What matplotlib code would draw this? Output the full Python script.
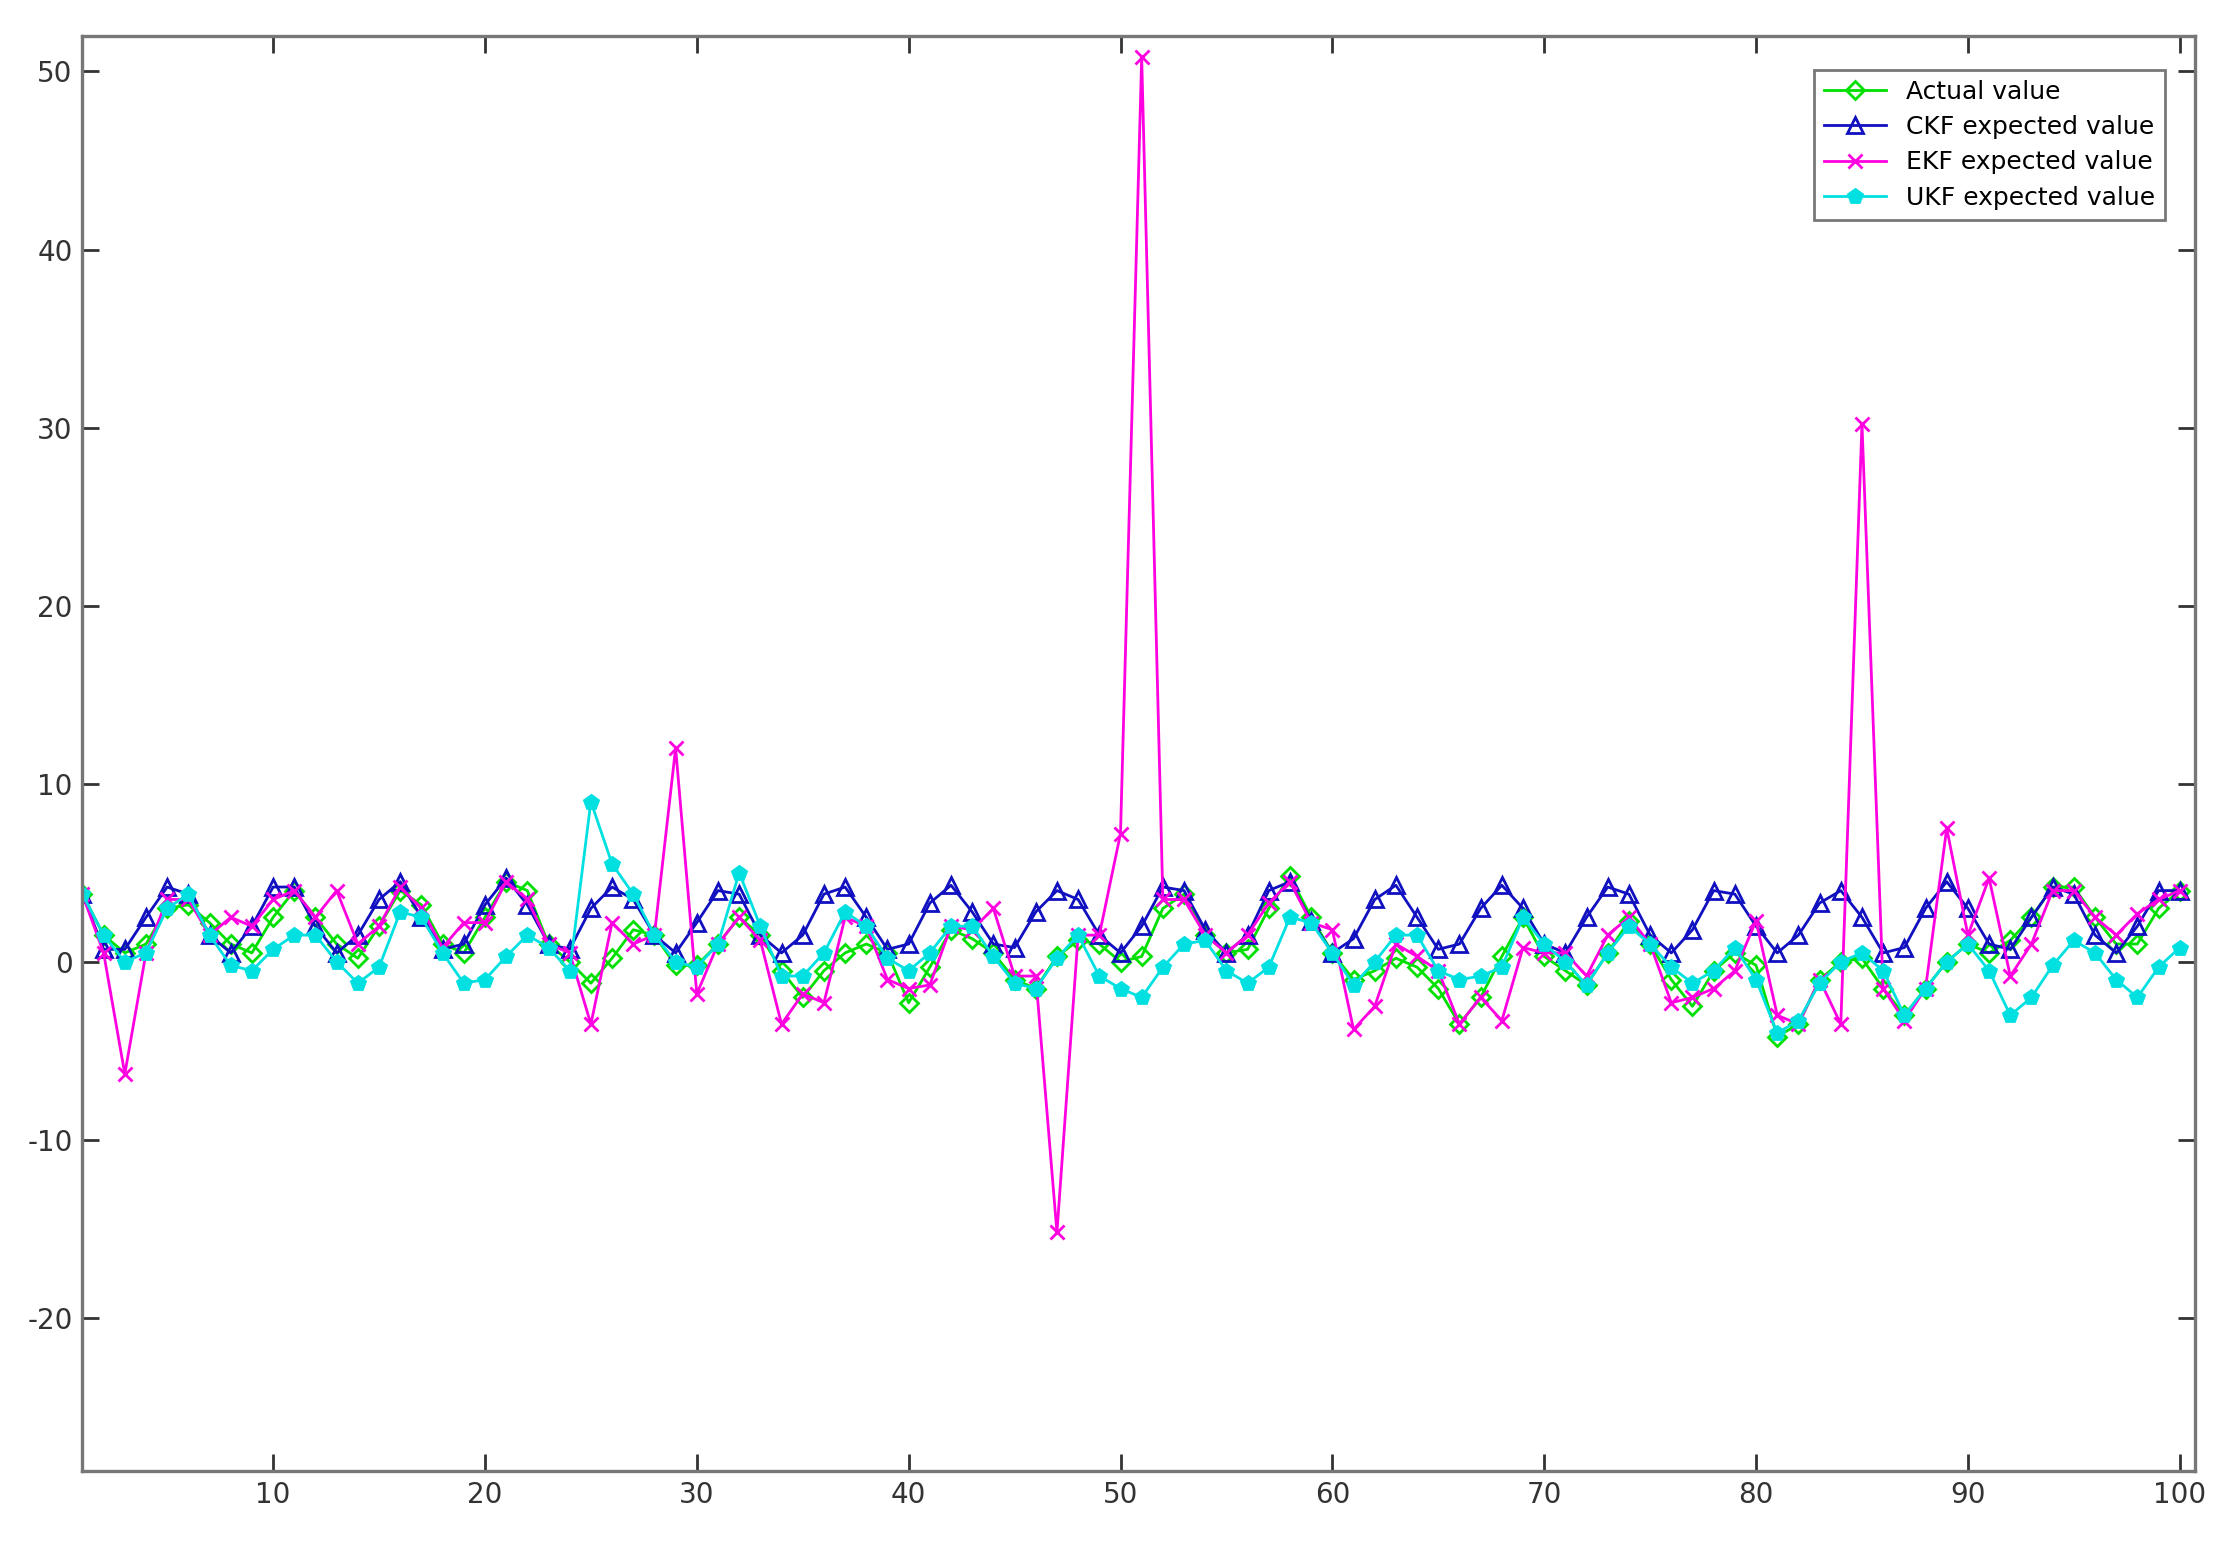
import matplotlib
matplotlib.use("Agg")
import matplotlib.pyplot as plt
import numpy as np

plt.rcParams['axes.unicode_minus'] = False

x = np.arange(1, 101)
actual = [3.8,1.5,0.5,1.0,3.0,3.2,2.2,1.0,0.5,2.5,4.0,2.5,1.0,0.2,2.0,4.0,3.2,1.0,0.5,2.5,
          4.5,4.0,1.0,0.0,-1.2,0.2,1.8,1.5,-0.2,-0.2,1.0,2.5,1.5,-0.5,-2.0,-0.5,0.5,1.0,0.5,-2.3,
          -0.3,1.8,1.3,0.5,-1.0,-1.5,0.3,1.2,1.0,0.0,0.3,3.0,3.8,1.5,0.5,0.7,3.0,4.8,2.5,0.5,
          -1.0,-0.5,0.2,-0.3,-1.5,-3.5,-2.0,0.3,2.5,0.3,-0.5,-1.3,0.5,2.3,1.0,-1.0,-2.5,-0.5,0.5,-0.2,
          -4.2,-3.5,-1.0,0.0,0.2,-1.5,-3.0,-1.5,0.0,1.0,0.5,1.2,2.5,4.2,4.2,2.5,1.0,1.0,3.0,4.0]
ckf = [3.8,0.7,0.7,2.5,4.2,3.8,1.5,0.5,2.0,4.2,4.2,2.0,0.5,1.5,3.5,4.5,2.5,0.7,1.0,3.2,
       4.7,3.2,1.0,0.7,3.0,4.2,3.5,1.5,0.5,2.2,4.0,3.8,1.5,0.5,1.5,3.8,4.2,2.5,0.7,1.0,
       3.3,4.3,2.8,1.0,0.8,2.8,4.0,3.5,1.5,0.5,2.0,4.2,4.0,1.8,0.5,1.5,4.0,4.5,2.3,0.5,
       1.3,3.5,4.3,2.5,0.7,1.0,3.0,4.3,3.0,1.0,0.5,2.5,4.2,3.8,1.5,0.5,1.8,4.0,3.8,2.0,
       0.5,1.5,3.3,4.0,2.5,0.5,0.8,3.0,4.5,3.0,1.0,0.7,2.5,4.2,3.8,1.5,0.5,2.0,4.0,4.0]
ekf = [3.8,0.5,-6.3,0.5,3.5,3.5,1.5,2.5,2.0,3.5,4.0,2.5,4.0,1.0,2.0,4.2,3.0,0.8,2.2,2.2,
       4.5,3.5,1.0,0.5,-3.5,2.2,1.0,1.5,12.0,-1.8,1.0,2.5,1.2,-3.5,-1.8,-2.3,2.5,2.0,-1.0,-1.5,
       -1.3,2.0,1.8,3.0,-0.8,-0.8,-15.2,1.5,1.5,7.2,50.8,3.5,3.5,1.5,0.5,1.5,3.3,4.5,2.2,1.8,
       -3.8,-2.5,1.0,0.3,-0.5,-3.5,-2.0,-3.3,0.8,0.5,0.5,-0.8,1.5,2.5,1.0,-2.3,-2.0,-1.5,-0.5,2.3,
       -3.0,-3.5,-1.0,-3.5,30.2,-1.5,-3.3,-1.5,7.5,1.5,4.7,-0.8,1.0,4.0,4.0,2.5,1.5,2.7,3.5,4.0]
ukf = [3.8,1.5,0.0,0.5,3.0,3.8,1.5,-0.2,-0.5,0.7,1.5,1.5,0.0,-1.2,-0.3,2.8,2.5,0.5,-1.2,-1.0,
       0.3,1.5,0.8,-0.5,9.0,5.5,3.8,1.5,0.0,-0.3,1.0,5.0,2.0,-0.8,-0.8,0.5,2.8,2.0,0.2,-0.5,
       0.5,2.0,2.0,0.3,-1.2,-1.5,0.2,1.5,-0.8,-1.5,-2.0,-0.3,1.0,1.2,-0.5,-1.2,-0.3,2.5,2.2,0.5,
       -1.3,0.0,1.5,1.5,-0.5,-1.0,-0.8,-0.3,2.5,1.0,0.0,-1.3,0.5,2.0,1.0,-0.3,-1.2,-0.5,0.8,-1.0,
       -4.0,-3.3,-1.2,0.0,0.5,-0.5,-3.0,-1.5,0.0,1.0,-0.5,-3.0,-2.0,-0.2,1.2,0.5,-1.0,-2.0,-0.3,0.8]
labels = ["Actual value", "CKF expected value", "EKF expected value", "UKF expected value"]

fig = plt.figure(figsize=(11.14, 7.8), dpi=200)
ax = fig.add_axes([0.037, 0.057, 0.948, 0.92])
ax.plot(x, actual, color="#00e000", marker="D", markersize=4.5, markerfacecolor="none",
        markeredgecolor="#00e000", lw=1, label=labels[0])
ax.plot(x, ckf, color="#1010c0", marker="^", markersize=6, markerfacecolor="none",
        lw=1, label=labels[1])
ax.plot(x, ekf, color="#ff00e0", marker="x", markersize=5, lw=1, label=labels[2])
ax.plot(x, ukf, color="#00e0e0", marker="p", markersize=5, lw=1, label=labels[3])

ax.set_xlim(1, 100.7)
ax.set_ylim(-28.6, 52)
ax.set_xticks(np.arange(10, 101, 10))
ax.set_yticks(np.arange(-20, 51, 10))
ax.tick_params(direction="in", length=6, width=1, top=True, right=True,
               labelsize=10, colors="#333333")
for s in ax.spines.values():
    s.set_color("#777777"); s.set_linewidth(1.2)
leg = ax.legend(loc="upper right", fontsize=9, frameon=True, fancybox=False,
                edgecolor="#555555", borderpad=0.4, handlelength=2.5, labelspacing=0.45,
                bbox_to_anchor=(0.992, 0.985))
leg.get_frame().set_linewidth(1)
fig.savefig("out.png", dpi=200)
